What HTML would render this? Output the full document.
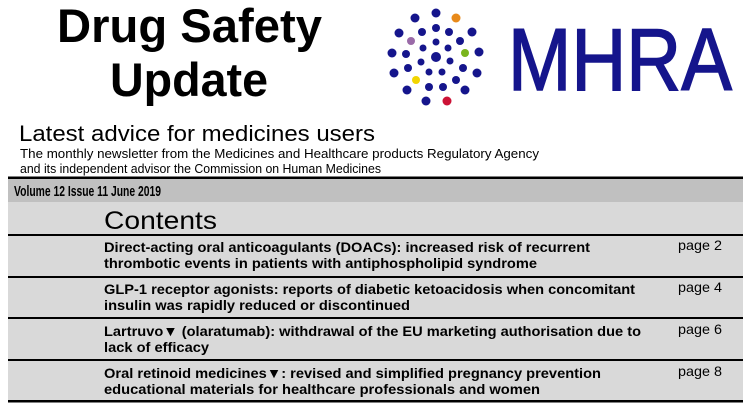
<!DOCTYPE html>
<html><head><meta charset="utf-8"><style>
html,body{margin:0;padding:0;background:#fff;width:751px;height:403px;overflow:hidden}
svg{display:block}
text{font-family:"Liberation Sans",Arial,sans-serif}
.b{font-weight:bold}
</style></head><body>
<svg width="751" height="403" viewBox="0 0 751 403" xmlns="http://www.w3.org/2000/svg">
<rect x="0" y="0" width="751" height="403" fill="#fff"/>
<text class="b" x="57" y="42" font-size="47" textLength="265" lengthAdjust="spacingAndGlyphs" fill="#000">Drug Safety</text>
<text class="b" x="110" y="96" font-size="47" textLength="158" lengthAdjust="spacingAndGlyphs" fill="#000">Update</text>
<g fill="#15158c">
<circle cx="415" cy="18" r="4.5"/><circle cx="436" cy="13" r="4.5"/><circle cx="399" cy="33" r="4.5"/>
<circle cx="422" cy="32" r="4"/><circle cx="436" cy="28" r="4"/><circle cx="449" cy="32" r="4"/>
<circle cx="472" cy="32" r="4.5"/><circle cx="436" cy="42" r="3.5"/><circle cx="460" cy="41" r="4"/>
<circle cx="423" cy="48" r="3.5"/><circle cx="448" cy="48" r="3.5"/><circle cx="392" cy="53" r="4.5"/>
<circle cx="406" cy="54" r="4"/><circle cx="436" cy="57" r="5"/><circle cx="479" cy="52" r="4.5"/>
<circle cx="421" cy="62" r="3.5"/><circle cx="450" cy="61" r="3.5"/><circle cx="408" cy="68" r="4"/>
<circle cx="429" cy="72" r="3.5"/><circle cx="442" cy="72" r="3.5"/><circle cx="463" cy="68" r="4"/>
<circle cx="394" cy="73" r="4.5"/><circle cx="477" cy="73" r="4.5"/><circle cx="456" cy="80" r="4"/>
<circle cx="407" cy="90" r="4.5"/><circle cx="429" cy="87" r="4"/><circle cx="443" cy="87" r="4"/>
<circle cx="465" cy="90" r="4.5"/><circle cx="426" cy="101" r="4.5"/>
</g>
<circle cx="456" cy="18" r="4.5" fill="#e88a1a"/>
<circle cx="411" cy="41" r="4" fill="#9a6aa8"/>
<circle cx="465" cy="53" r="4" fill="#7ab51d"/>
<circle cx="416" cy="80" r="4" fill="#f2d500"/>
<circle cx="447" cy="101" r="4.5" fill="#cc1236"/>
<text x="508" y="90" font-size="88" textLength="224" lengthAdjust="spacingAndGlyphs" fill="#15158c" stroke="#15158c" stroke-width="1.5">MHRA</text>
<text x="19" y="141" font-size="22" textLength="356" lengthAdjust="spacingAndGlyphs" fill="#000">Latest advice for medicines users</text>
<text x="20" y="158" font-size="13" textLength="519" lengthAdjust="spacingAndGlyphs" fill="#000">The monthly newsletter from the Medicines and Healthcare products Regulatory Agency</text>
<text x="20" y="173" font-size="13" textLength="361" lengthAdjust="spacingAndGlyphs" fill="#000">and its independent advisor the Commission on Human Medicines</text>
<rect x="8" y="178" width="735" height="24" fill="#c0c0c0"/>
<rect x="8" y="202" width="735" height="200" fill="#d9d9d9"/>
<rect x="8" y="176.5" width="735" height="2.5" fill="#000"/>
<rect x="8" y="234" width="735" height="2" fill="#000"/>
<rect x="8" y="276" width="735" height="2" fill="#000"/>
<rect x="8" y="317" width="735" height="2" fill="#000"/>
<rect x="8" y="359" width="735" height="2" fill="#000"/>
<rect x="8" y="400" width="735" height="2.5" fill="#000"/>
<text class="b" x="14" y="196" font-size="14.5" textLength="147" lengthAdjust="spacingAndGlyphs">Volume 12 Issue 11 June 2019</text>
<text x="104" y="229" font-size="25" textLength="113" lengthAdjust="spacingAndGlyphs">Contents</text>
<g font-size="14" class="b">
<text class="b" x="104" y="252" textLength="486" lengthAdjust="spacingAndGlyphs">Direct-acting oral anticoagulants (DOACs): increased risk of recurrent</text>
<text class="b" x="104" y="268" textLength="433" lengthAdjust="spacingAndGlyphs">thrombotic events in patients with antiphospholipid syndrome</text>
<text class="b" x="104" y="294" textLength="531" lengthAdjust="spacingAndGlyphs">GLP-1 receptor agonists: reports of diabetic ketoacidosis when concomitant</text>
<text class="b" x="104" y="310" textLength="306" lengthAdjust="spacingAndGlyphs">insulin was rapidly reduced or discontinued</text>
<text class="b" x="104" y="336" textLength="537" lengthAdjust="spacingAndGlyphs">Lartruvo▼ (olaratumab): withdrawal of the EU marketing authorisation due to</text>
<text class="b" x="104" y="352" textLength="105" lengthAdjust="spacingAndGlyphs">lack of efficacy</text>
<text class="b" x="104" y="378" textLength="497" lengthAdjust="spacingAndGlyphs">Oral retinoid medicines▼: revised and simplified pregnancy prevention</text>
<text class="b" x="104" y="394" textLength="436" lengthAdjust="spacingAndGlyphs">educational materials for healthcare professionals and women</text>
</g>
<g font-size="14">
<text x="678" y="250" textLength="44" lengthAdjust="spacingAndGlyphs">page 2</text>
<text x="678" y="292" textLength="44" lengthAdjust="spacingAndGlyphs">page 4</text>
<text x="678" y="334" textLength="44" lengthAdjust="spacingAndGlyphs">page 6</text>
<text x="678" y="376" textLength="44" lengthAdjust="spacingAndGlyphs">page 8</text>
</g>
</svg>
</body></html>
